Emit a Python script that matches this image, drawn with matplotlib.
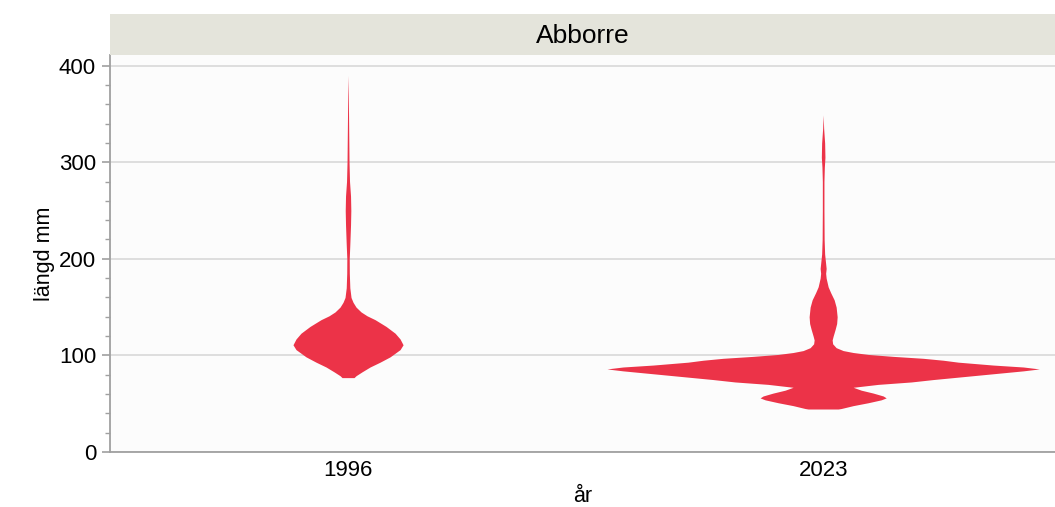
import numpy as np
import matplotlib
matplotlib.use("Agg")
from matplotlib import pyplot as plt
from matplotlib.ticker import MultipleLocator

plt.rcParams['font.family'] = ['Liberation Sans', 'DejaVu Sans']

# categories on the x axis
years = ["1996", "2023"]

# violin outlines: length (mm) and relative density
len_1996 = [390, 370, 340, 300, 280, 265, 250, 235, 215, 200, 185, 170, 160, 155,
            150, 145, 141, 137, 130, 123, 117, 111, 106, 98.5, 93, 88, 83, 79, 77]
dens_1996 = [0, 0.3, 0.6, 1.0, 1.5, 2.5, 2.8, 2.5, 1.8, 1.2, 1.3, 1.8, 3.0, 5,
             8, 13, 19, 27, 38, 47, 52, 55, 52, 42, 32, 22, 14, 8, 6]

len_2023 = [349, 335, 320, 305, 295, 280, 250, 220, 205, 195, 190, 185, 180, 171,
            165, 157.5, 150, 140, 133, 127, 120, 116, 112, 108, 105, 103, 101, 99, 97,
            95, 93, 90, 88, 86, 84, 81, 78, 75, 72.5, 70, 67, 64, 61, 58, 56, 54,
            51, 48, 45, 44.5]
dens_2023 = [0, 0.5, 1.5, 1.8, 1.2, 0.8, 0.8, 1.0, 1.5, 2.5, 3, 2.5, 3, 5,
             7.5, 11, 13, 14, 13.5, 12, 10, 9, 9.5, 13, 20, 30, 45, 70, 100,
             120, 135, 170, 200, 216, 200, 170, 140, 110, 88, 55, 30, 38, 50, 60, 63, 58,
             45, 30, 18, 15]

violin_color = "#EC3348"
max_half = 0.455  # widest half width in category units

fig = plt.figure(figsize=(10.55, 5.07), dpi=100)
fig.patch.set_facecolor("#FFFFFF")
ax = fig.add_axes([110/1055, 55/507, 945/1055, 397/507])
ax.set_facecolor("#FCFCFC")

peak = max(max(dens_1996), max(dens_2023))
for i, (ys, ds) in enumerate([(len_1996, dens_1996), (len_2023, dens_2023)]):
    ys = np.array(ys, dtype=float)
    w = np.array(ds, dtype=float) / peak * max_half
    ax.fill_betweenx(ys, i - w, i + w, color=violin_color, linewidth=0, zorder=3)

ax.set_xlim(-0.501, 1.488)
ax.set_ylim(0, 411)
ax.set_xticks(range(len(years)))
ax.set_xticklabels(years)
ax.yaxis.set_major_locator(MultipleLocator(100))
ax.yaxis.set_minor_locator(MultipleLocator(20))
ax.grid(axis="y", which="major", color="#D8D8D8", linewidth=1.2, zorder=0)

for s in ["top", "right"]:
    ax.spines[s].set_visible(False)
for s in ["left", "bottom"]:
    ax.spines[s].set_color("#A0A0A0")
    ax.spines[s].set_linewidth(1.3)

ax.tick_params(axis="x", length=0, pad=6, labelsize=16)
ax.tick_params(axis="y", which="major", length=6, width=1.2, color="#A0A0A0", pad=4, labelsize=16)
ax.tick_params(axis="y", which="minor", length=3.5, width=1.0, color="#A0A0A0")

ax.set_xlabel("år", fontsize=15.5, labelpad=3)
ax.set_ylabel("längd mm", fontsize=15.5, labelpad=3)

# facet strip
strip = fig.add_axes([110/1055, 452/507, 945/1055, 41/507])
strip.set_facecolor("#E4E4DB")
strip.set_xticks([])
strip.set_yticks([])
for s in strip.spines.values():
    s.set_visible(False)
strip.text(0.5, 0.47, "Abborre", ha="center", va="center", fontsize=19,
           transform=strip.transAxes)

fig.savefig("out.png", dpi=100)
